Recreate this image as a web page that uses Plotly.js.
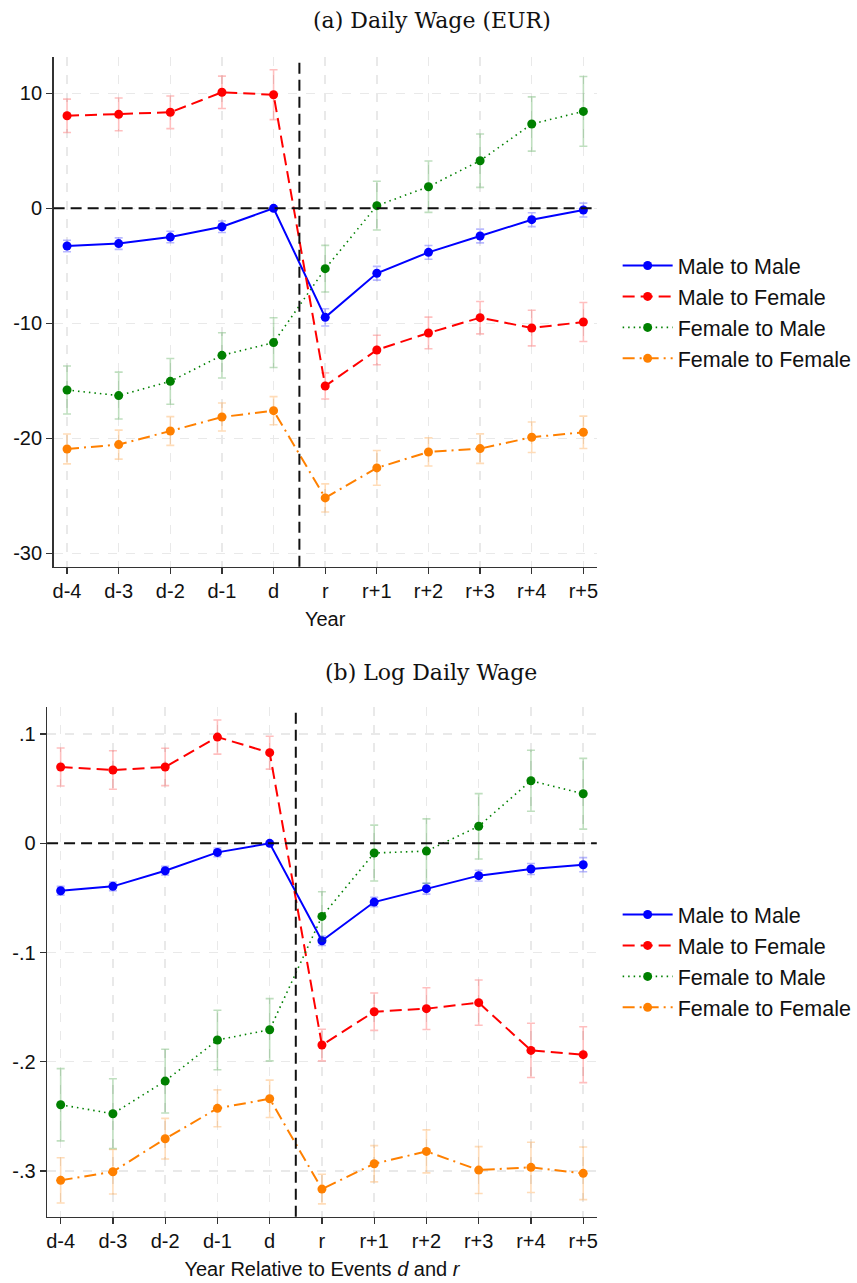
<!DOCTYPE html>
<html>
<head>
<meta charset="utf-8">
<script src="https://cdn.plot.ly/plotly-3.0.1.min.js"></script>
<style>
  html, body { margin: 0; padding: 0; background: #ffffff; }
  #chart { width: 857px; height: 1283px; }
</style>
</head>
<body>
<div id="chart"></div>
<script>
// ---------------- data ----------------
const xLabels = ['d-4','d-3','d-2','d-1','d','r','r+1','r+2','r+3','r+4','r+5'];
const seriesNames = ['Male to Male','Male to Female','Female to Male','Female to Female'];

// (a) Daily wage (EUR)
const wageMM  = [-3.28, -3.07, -2.50, -1.60, 0.00, -9.48, -5.65, -3.83, -2.41, -0.99, -0.15];
const wageMMse = [0.5, 0.5, 0.5, 0.5, 0.0, 0.75, 0.6, 0.6, 0.6, 0.6, 0.6];
const wageMF  = [8.05, 8.17, 8.35, 10.09, 9.88, -15.45, -12.32, -10.84, -9.51, -10.41, -9.89];
const wageMFse = [1.45, 1.42, 1.42, 1.41, 2.17, 1.14, 1.28, 1.38, 1.41, 1.55, 1.70];
const wageFM  = [-15.80, -16.29, -15.05, -12.79, -11.68, -5.25, 0.23, 1.88, 4.14, 7.33, 8.43];
const wageFMse = [2.09, 2.04, 1.99, 1.97, 2.16, 2.03, 2.12, 2.23, 2.32, 2.36, 3.03];
const wageFF  = [-20.93, -20.55, -19.37, -18.15, -17.60, -25.19, -22.58, -21.19, -20.90, -19.91, -19.48];
const wageFFse = [1.30, 1.26, 1.25, 1.22, 1.22, 1.22, 1.51, 1.22, 1.28, 1.33, 1.41];

// (b) Log daily wage
const logMM  = [-0.0434, -0.0394, -0.0251, -0.0083, 0.0, -0.0892, -0.0538, -0.0415, -0.0296, -0.0235, -0.0196];
const logMMse = [0.004, 0.004, 0.004, 0.004, 0.0, 0.0043, 0.0043, 0.005, 0.005, 0.005, 0.0065];
const logMF  = [0.0699, 0.0671, 0.0699, 0.0973, 0.0830, -0.1847, -0.1542, -0.1514, -0.1459, -0.1896, -0.1935];
const logMFse = [0.0174, 0.0176, 0.0171, 0.0156, 0.0151, 0.0145, 0.0171, 0.0191, 0.0207, 0.0249, 0.0256];
const logFM  = [-0.2394, -0.2476, -0.2177, -0.1801, -0.1707, -0.0669, -0.0089, -0.0071, 0.0156, 0.0573, 0.0454];
const logFMse = [0.0331, 0.0320, 0.0292, 0.0273, 0.0285, 0.0226, 0.0256, 0.0295, 0.0299, 0.0279, 0.0324];
const logFF  = [-0.3086, -0.3007, -0.2705, -0.2427, -0.2339, -0.3166, -0.2934, -0.2821, -0.2992, -0.2967, -0.3022];
const logFFse = [0.0207, 0.0204, 0.0186, 0.0169, 0.0171, 0.0136, 0.0166, 0.0197, 0.0215, 0.0230, 0.0241];

const wageTicks = [10, 0, -10, -20, -30];
const wageTickText = ['10', '0', '-10', '-20', '-30'];
const logTicks = [0.1, 0, -0.1, -0.2, -0.3];
const logTickText = ['.1', '0', '-.1', '-.2', '-.3'];

// ---------------- styles ----------------
const W = 857, H = 1283;
const styles = [
  { color: 'rgb(0,0,255)',   err: 'rgba(0,0,255,0.28)',   dash: 'solid',              width: 2 },
  { color: 'rgb(255,0,0)',   err: 'rgba(255,0,0,0.25)',   dash: '12px,6px',           width: 2 },
  { color: 'rgb(0,128,0)',   err: 'rgba(0,128,0,0.25)',   dash: '1.5px,4px',          width: 1.6 },
  { color: 'rgb(255,128,0)', err: 'rgba(255,128,0,0.28)', dash: '12px,5px,2px,5px',   width: 2 }
];

const xs = xLabels.map((_, i) => i);

function makeTraces(vals, ses, xa, ya, legendId) {
  return vals.map((v, k) => ({
    type: 'scatter',
    mode: 'lines+markers',
    x: xs,
    y: v,
    xaxis: xa,
    yaxis: ya,
    name: seriesNames[k],
    legend: legendId,
    line: { color: styles[k].color, width: styles[k].width, dash: styles[k].dash },
    marker: { color: styles[k].color, size: 9, symbol: 'circle' },
    error_y: { type: 'data', array: ses[k], visible: true, color: styles[k].err, thickness: 1.6, width: 4 }
  }));
}

const traces = [].concat(
  makeTraces([wageMM, wageMF, wageFM, wageFF], [wageMMse, wageMFse, wageFMse, wageFFse], 'x', 'y', 'legend'),
  makeTraces([logMM, logMF, logFM, logFF], [logMMse, logMFse, logFMse, logFFse], 'x2', 'y2', 'legend2')
);

// geometry (pixels -> paper)
const px = v => v / W;
const py = v => 1 - v / H;

const gridStyle = { showgrid: true, gridcolor: '#e9e9e9', gridwidth: 1.5, griddash: 'dash' };
const tickFont = { family: 'Liberation Sans, Arial, sans-serif', size: 20, color: '#111' };

function xAxis(domain, anchor, titleText) {
  return Object.assign({
    domain: domain, anchor: anchor,
    range: [-0.26, 10.26],
    tickmode: 'array', tickvals: xs, ticktext: xLabels,
    ticks: 'outside', ticklen: 6, tickwidth: 1.3, tickcolor: '#333',
    showline: true, linecolor: '#333', linewidth: 1.5,
    zeroline: false, tickfont: tickFont,
    title: { text: titleText, font: { family: 'Liberation Sans, Arial, sans-serif', size: 20, color: '#111' }, standoff: 11 }
  }, gridStyle);
}
function yAxis(domain, anchor, range, tv, tt) {
  return Object.assign({
    domain: domain, anchor: anchor, range: range,
    tickmode: 'array', tickvals: tv, ticktext: tt,
    ticks: 'outside', ticklen: 6, tickwidth: 1.3, tickcolor: '#333',
    showline: true, linecolor: '#333', linewidth: 1.5,
    zeroline: false, tickfont: tickFont
  }, gridStyle);
}

const legendFont = { family: 'Liberation Sans, Arial, sans-serif', size: 21.5, color: '#111' };

const layout = {
  width: W, height: H,
  margin: { l: 0, r: 0, t: 0, b: 0 },
  paper_bgcolor: '#ffffff', plot_bgcolor: '#ffffff',
  showlegend: true,
  xaxis:  xAxis([px(54), px(601)], 'y', 'Year'),
  yaxis:  yAxis([py(566.7), py(57)], 'x', [-31.17, 13.16], wageTicks, wageTickText),
  xaxis2: xAxis([px(47.4), px(601)], 'y2', 'Year Relative to Events <i>d</i> and <i>r</i>'),
  yaxis2: yAxis([py(1216.7), py(706.7)], 'x2', [-0.3419, 0.1251], logTicks, logTickText),
  legend: {
    x: px(622), y: py(312), xanchor: 'left', yanchor: 'middle',
    font: legendFont, bgcolor: 'rgba(0,0,0,0)', itemwidth: 50
  },
  legend2: {
    x: px(622), y: py(961), xanchor: 'left', yanchor: 'middle',
    font: legendFont, bgcolor: 'rgba(0,0,0,0)', itemwidth: 50
  },
  annotations: [
    { text: '(a) Daily Wage (EUR)', xref: 'paper', yref: 'paper', x: px(435), y: py(21),
      xanchor: 'center', yanchor: 'middle', showarrow: false,
      font: { family: 'DejaVu Serif, serif', size: 22, color: '#111' } },
    { text: '(b) Log Daily Wage', xref: 'paper', yref: 'paper', x: px(434), y: py(672),
      xanchor: 'center', yanchor: 'middle', showarrow: false,
      font: { family: 'DejaVu Serif, serif', size: 22, color: '#111' } }
  ],
  shapes: [
    { type: 'line', xref: 'x domain', yref: 'y', x0: 0, x1: 1, y0: 0, y1: 0, line: { color: '#111', width: 2, dash: '11px,6px' } },
    { type: 'line', xref: 'x', yref: 'y domain', x0: 4.5, x1: 4.5, y0: 0, y1: 1, line: { color: '#111', width: 2, dash: '11px,6px' } },
    { type: 'line', xref: 'x2 domain', yref: 'y2', x0: 0, x1: 1, y0: 0, y1: 0, line: { color: '#111', width: 2, dash: '11px,6px' } },
    { type: 'line', xref: 'x2', yref: 'y2 domain', x0: 4.5, x1: 4.5, y0: 0, y1: 1, line: { color: '#111', width: 2, dash: '11px,6px' } }
  ]
};

Plotly.newPlot('chart', traces, layout, { displayModeBar: false, staticPlot: true });
</script>
</body>
</html>
